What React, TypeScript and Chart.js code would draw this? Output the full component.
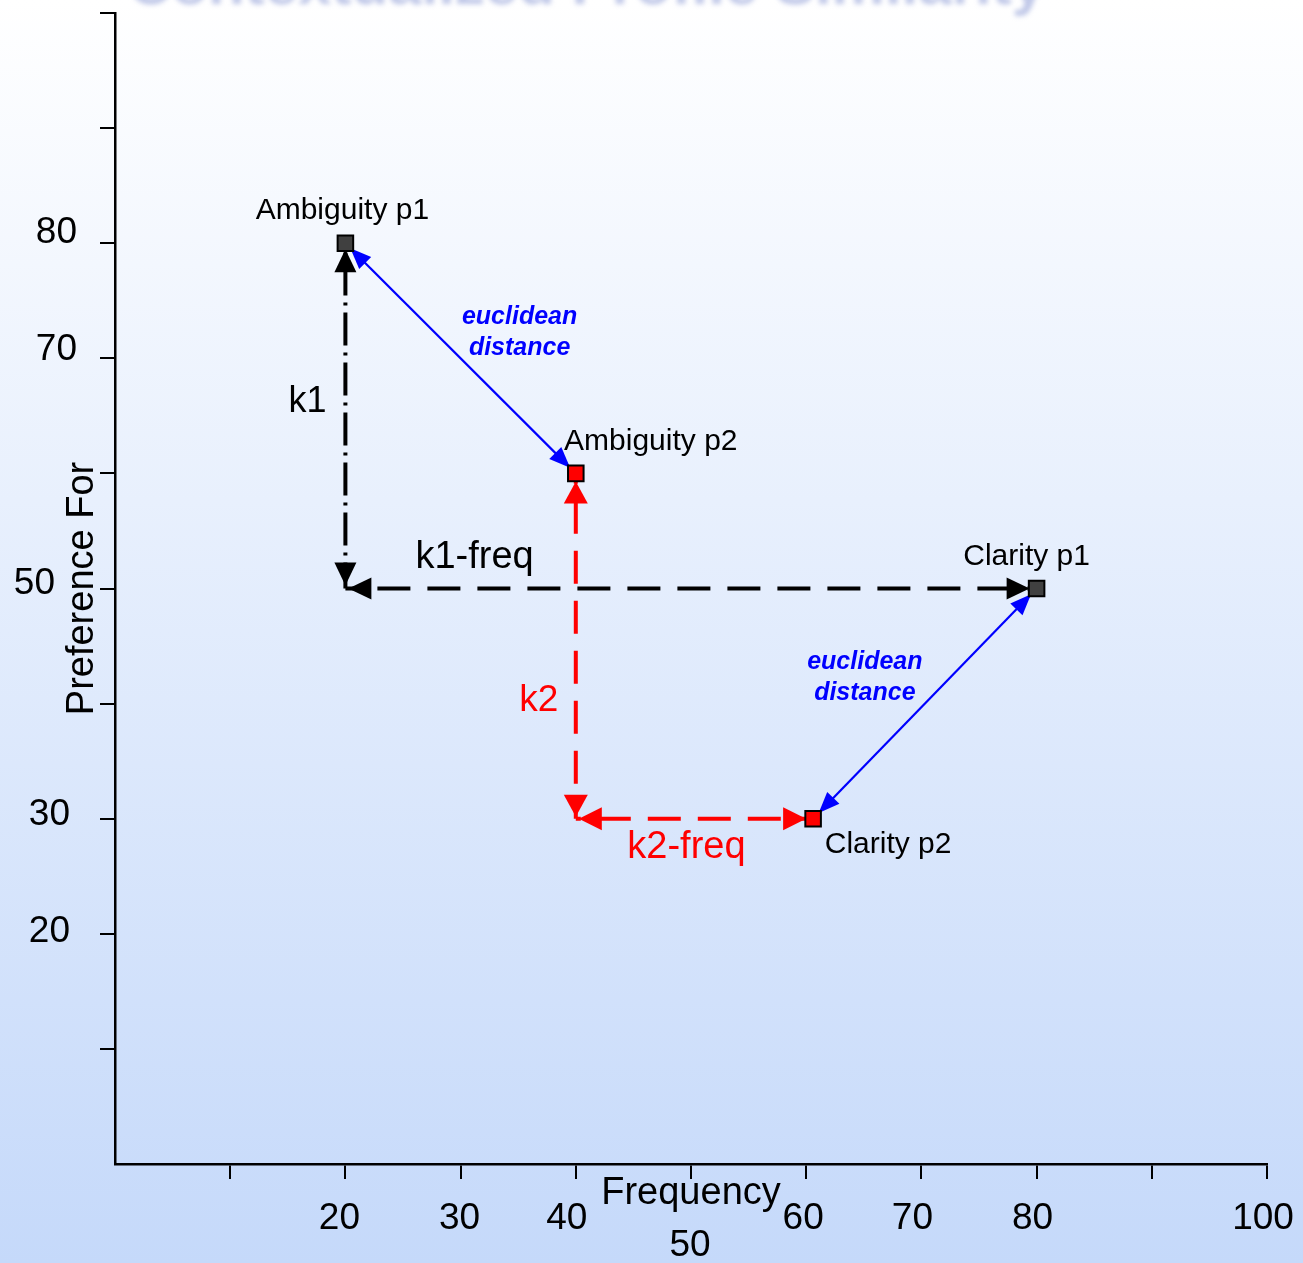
import React, { useEffect, useRef } from 'react';
import { Chart, registerables } from 'chart.js';

Chart.register(...registerables);

// ---------------- data ----------------
const pointNames = ['Ambiguity p1', 'Ambiguity p2', 'Clarity p1', 'Clarity p2'];
const frequency = [20, 40, 80, 60.6];
const preference = [80, 60, 50, 30];
const pointKinds = ['p1', 'p2', 'p1', 'p2'];

const xTickValues = [20, 30, 40, 50, 60, 70, 80, 100];
const yTickValues = [80, 70, 50, 30, 20];

const xTitle = 'Frequency';
const yTitle = 'Preference For';
const slideTitle = 'Contextualized Profile Similarity';
const k1Text = 'k1';
const k1FreqText = 'k1-freq';
const k2Text = 'k2';
const k2FreqText = 'k2-freq';
const euclidText = ['euclidean', 'distance'];

// ---------------- layout / style (pixels) ----------------
const W = 1303;
const H = 1263;
const FONT = '"Liberation Sans", Arial, Helvetica, sans-serif';
const xTickDx = [-6, -1, -9, -1, -3, -9, -4, -4];
const xTickRow = [0, 0, 0, 1, 0, 0, 0, 0];
const yTickRight = [-38, -38, -60, -45, -45];
const yTickDy = [-10, -9, -5, -4, -2];

const pt = (i: number) => ({ x: frequency[i], y: preference[i] });
const k1Corner = { x: frequency[0], y: preference[2] };
const k2Corner = { x: frequency[1], y: preference[3] };

type Seg = {
  from: { x: number; y: number };
  to: { x: number; y: number };
  color: string;
  width: number;
  dash: number[];
  dashOffset: number;
  headLen: number;
  headW: number;
  gapFrom: number;
  gapTo: number;
};

const segments: Seg[] = [
  { from: k1Corner, to: pt(0), color: '#000000', width: 4, dash: [33, 7, 3, 7], dashOffset: 7, headLen: 23, headW: 22, gapFrom: 3, gapTo: 6 },
  { from: k1Corner, to: pt(2), color: '#000000', width: 4, dash: [33, 17], dashOffset: 18, headLen: 23, headW: 22, gapFrom: 3, gapTo: 7 },
  { from: k2Corner, to: pt(1), color: '#ff0000', width: 4, dash: [33, 17], dashOffset: 15, headLen: 22, headW: 24, gapFrom: 2, gapTo: 8 },
  { from: k2Corner, to: pt(3), color: '#ff0000', width: 4, dash: [33, 17], dashOffset: 28, headLen: 23, headW: 23, gapFrom: 3, gapTo: 7 },
  { from: pt(0), to: pt(1), color: '#0000ff', width: 2.2, dash: [], dashOffset: 0, headLen: 21, headW: 17, gapFrom: 7, gapTo: 8 },
  { from: pt(2), to: pt(3), color: '#0000ff', width: 2.2, dash: [], dashOffset: 0, headLen: 21, headW: 17, gapFrom: 8, gapTo: 8 },
];

function drawHead(ctx: CanvasRenderingContext2D, tipX: number, tipY: number, dx: number, dy: number, len: number, w: number, color: string) {
  const bx = tipX - dx * len;
  const by = tipY - dy * len;
  const px = -dy;
  const py = dx;
  ctx.beginPath();
  ctx.moveTo(tipX, tipY);
  ctx.lineTo(bx + px * w / 2, by + py * w / 2);
  ctx.lineTo(bx - px * w / 2, by - py * w / 2);
  ctx.closePath();
  ctx.fillStyle = color;
  ctx.fill();
}

const backgroundPlugin = {
  id: 'bg',
  beforeDraw(chart: any) {
    const { ctx } = chart;
    ctx.save();
    const g = ctx.createLinearGradient(0, 0, 0, H);
    g.addColorStop(0, '#ffffff');
    g.addColorStop(1, '#c5d9fa');
    ctx.fillStyle = g;
    ctx.fillRect(0, 0, W, H);
    // faded, cut-off slide title
    ctx.filter = 'blur(2.5px)';
    ctx.fillStyle = 'rgba(130,145,210,0.5)';
    ctx.font = `bold 60px ${FONT}`;
    ctx.textAlign = 'right';
    ctx.textBaseline = 'alphabetic';
    ctx.fillText(slideTitle, 1045, 4);
    ctx.filter = 'none';
    ctx.restore();
  },
};

const arrowPlugin = {
  id: 'arrows',
  beforeDatasetDraw(chart: any, args: any) {
    if (args.index !== 0) return;
    const { ctx } = chart;
    const xs = chart.scales.x;
    const ys = chart.scales.y;
    ctx.save();
    segments.forEach((s) => {
      const x0 = xs.getPixelForValue(s.from.x);
      const y0 = ys.getPixelForValue(s.from.y);
      const x1 = xs.getPixelForValue(s.to.x);
      const y1 = ys.getPixelForValue(s.to.y);
      const L = Math.hypot(x1 - x0, y1 - y0);
      const ux = (x1 - x0) / L;
      const uy = (y1 - y0) / L;
      drawHead(ctx, x1 - ux * s.gapTo, y1 - uy * s.gapTo, ux, uy, s.headLen, s.headW, s.color);
      drawHead(ctx, x0 + ux * s.gapFrom, y0 + uy * s.gapFrom, -ux, -uy, s.headLen, s.headW, s.color);
    });
    ctx.restore();
  },
};

const textPlugin = {
  id: 'texts',
  afterDraw(chart: any) {
    const { ctx } = chart;
    const xs = chart.scales.x;
    const ys = chart.scales.y;
    const X = (v: number) => xs.getPixelForValue(v);
    const Y = (v: number) => ys.getPixelForValue(v);
    ctx.save();
    ctx.textBaseline = 'middle';

    // tick labels
    ctx.fillStyle = '#000';
    ctx.font = `37px ${FONT}`;
    ctx.textAlign = 'center';
    xTickValues.forEach((v, i) => {
      ctx.fillText(String(v), X(v) + xTickDx[i], chart.chartArea.bottom + 55 + xTickRow[i] * 27);
    });
    ctx.textAlign = 'right';
    yTickValues.forEach((v, i) => {
      ctx.fillText(String(v), chart.chartArea.left + yTickRight[i], Y(v) + yTickDy[i]);
    });

    // axis titles
    ctx.font = `38px ${FONT}`;
    ctx.textAlign = 'center';
    ctx.fillText(xTitle, X(50), chart.chartArea.bottom + 30);
    ctx.save();
    ctx.translate(83, Y(50));
    ctx.rotate(-Math.PI / 2);
    ctx.fillText(yTitle, 0, 0);
    ctx.restore();

    // point labels
    ctx.font = `30px ${FONT}`;
    const lblOff = [
      [-3, -32],
      [75, -32],
      [-10, -32],
      [75, 26],
    ];
    pointNames.forEach((n, i) => {
      ctx.fillText(n, X(frequency[i]) + lblOff[i][0], Y(preference[i]) + lblOff[i][1]);
    });

    // k labels
    ctx.font = `36px ${FONT}`;
    ctx.fillText(k1Text, X(k1Corner.x) - 38, Y(65) - 14);
    ctx.font = `38px ${FONT}`;
    ctx.fillText(k1FreqText, X(30) + 14, Y(k1Corner.y) - 31);
    ctx.fillStyle = '#ff0000';
    ctx.font = `37px ${FONT}`;
    ctx.fillText(k2Text, X(k2Corner.x) - 37, Y(40) - 3);
    ctx.font = `38px ${FONT}`;
    ctx.fillText(k2FreqText, (X(k2Corner.x) + X(frequency[3])) / 2 - 8, Y(k2Corner.y) + 29);

    // euclidean distance labels
    ctx.fillStyle = '#0000ff';
    ctx.font = `italic bold 25px ${FONT}`;
    const e1x = (X(frequency[0]) + X(frequency[1])) / 2 + 59;
    const e1y = (Y(preference[0]) + Y(preference[1])) / 2 - 41;
    ctx.fillText(euclidText[0], e1x, e1y);
    ctx.fillText(euclidText[1], e1x, e1y + 31);
    const e2x = (X(frequency[2]) + X(frequency[3])) / 2 - 60;
    const e2y = (Y(preference[2]) + Y(preference[3])) / 2 - 41;
    ctx.fillText(euclidText[0], e2x, e2y);
    ctx.fillText(euclidText[1], e2x, e2y + 31);
    ctx.restore();
  },
};

export default function App() {
  const ref = useRef<HTMLCanvasElement | null>(null);

  useEffect(() => {
    document.body.style.margin = '0';
    const canvas = ref.current;
    if (!canvas) return;

    const lineSets = segments.map((s) => ({
      type: 'scatter' as const,
      data: [s.from, s.to],
      showLine: true,
      borderColor: s.color,
      borderWidth: s.width,
      borderDash: s.dash,
      borderDashOffset: s.dashOffset,
      pointRadius: 0,
      fill: false,
      order: 1,
    }));

    const chart = new Chart(canvas, {
      type: 'scatter',
      data: {
        datasets: [
          {
            data: frequency.map((x, i) => ({ x, y: preference[i] })),
            pointStyle: 'rect',
            pointRadius: 11,
            pointBorderWidth: 2,
            pointBorderColor: '#000000',
            pointBackgroundColor: pointKinds.map((k) => (k === 'p1' ? '#404040' : '#ff0000')),
            order: 0,
          } as any,
          ...lineSets,
        ],
      },
      options: {
        responsive: false,
        animation: false,
        events: [],
        layout: { padding: { left: 100, top: 11, right: 36, bottom: 84 } },
        plugins: { legend: { display: false }, tooltip: { enabled: false } },
        scales: {
          x: {
            type: 'linear',
            min: 0,
            max: 100,
            ticks: { stepSize: 10, display: false },
            grid: {
              drawOnChartArea: false,
              drawTicks: true,
              tickLength: 15,
              lineWidth: 2,
              color: (c: any) => (c.tick && c.tick.value === 0 ? 'rgba(0,0,0,0)' : '#000000'),
            },
            border: { display: true, color: '#000000', width: 2.5 },
            afterFit: (s: any) => {
              s.height = 15;
            },
          },
          y: {
            type: 'linear',
            min: 0,
            max: 100,
            ticks: { stepSize: 10, display: false },
            grid: {
              drawOnChartArea: false,
              drawTicks: true,
              tickLength: 15,
              lineWidth: 2,
              color: (c: any) => (c.tick && c.tick.value === 0 ? 'rgba(0,0,0,0)' : '#000000'),
            },
            border: { display: true, color: '#000000', width: 2.5 },
            afterFit: (s: any) => {
              s.width = 15;
            },
          },
        },
      },
      plugins: [backgroundPlugin, arrowPlugin, textPlugin],
    });

    return () => chart.destroy();
  }, []);

  return (
    <div style={{ width: W, height: H, position: 'relative' }}>
      <canvas ref={ref} width={W} height={H} style={{ display: 'block' }} />
    </div>
  );
}
